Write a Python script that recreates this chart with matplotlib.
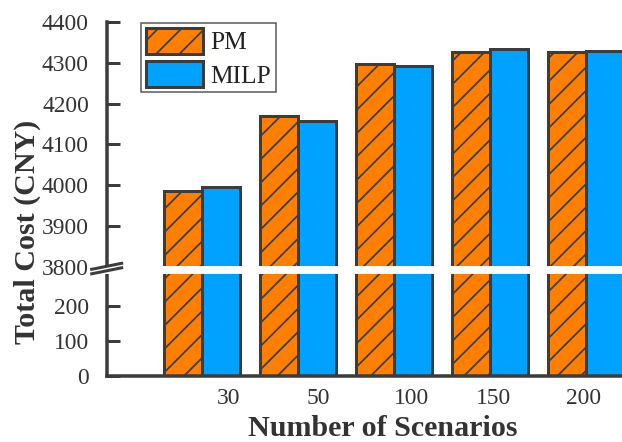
import numpy as np
import matplotlib
matplotlib.use("Agg")
import matplotlib.pyplot as plt
from matplotlib.lines import Line2D

DPI = 140
W, H = 622, 442
def pt(px):
    return px * 72.0 / DPI

categories = ["30", "50", "100", "150", "200"]
pm_values = [3985, 4170, 4298, 4327, 4326]
milp_values = [3995, 4158, 4293, 4333, 4329]
ytick_values = [0, 100, 200, 3800, 3900, 4000, 4100, 4200, 4300, 4400]
ytick_labels = ["0", "100", "200", "3800", "3900", "4000", "4100", "4200", "4300", "4400"]
xtick_offsets = [0.28, 0.21, 0.18, 0.04, -0.03]

plt.rcParams['font.family'] = ['Liberation Serif', 'DejaVu Serif']
plt.rcParams['hatch.linewidth'] = 0.9
plt.rcParams['hatch.color'] = '#2a2a2a'

EDGE = '#3c3c3c'
ORANGE = '#FF7F00'
BLUE = '#00A2FF'

# broken y axis as a piecewise-linear scale
K1 = 0.35
K2 = 245.0 / 600.0
def fwd(y):
    y = np.asarray(y, float)
    return np.where(y <= 300, y * K1,
                    np.where(y >= 3800, 109 + (y - 3800) * K2,
                             105 + (y - 300) * (4.0 / 3500.0)))
def inv(u):
    u = np.asarray(u, float)
    return np.where(u <= 105, u / K1,
                    np.where(u >= 109, 3800 + (u - 109) / K2,
                             300 + (u - 105) * 3500.0 / 4.0))

fig = plt.figure(figsize=(W / DPI, H / DPI), dpi=DPI)
ax = fig.add_axes([107 / W, 1 - 376 / H, 1 - 107 / W, (376 - 22) / H])
ax.set_yscale('function', functions=(fwd, inv))

x = np.arange(len(categories))
bw = 0.4
ax.bar(x - bw / 2, pm_values, bw, color=ORANGE, edgecolor=EDGE,
       linewidth=pt(3), hatch='//', label='PM', zorder=2)
ax.bar(x + bw / 2, milp_values, bw, color=BLUE, edgecolor=EDGE,
       linewidth=pt(3), label='MILP', zorder=2)

ax.set_ylim(0, 4400)
ax.set_xlim(-0.99, 4.375)
ax.set_yticks(ytick_values)
ax.set_yticklabels(ytick_labels)
ax.set_xticks(x + np.array(xtick_offsets))
ax.set_xticklabels(categories)
ax.minorticks_off()

for s in ['top', 'right']:
    ax.spines[s].set_visible(False)
for s in ['left', 'bottom']:
    ax.spines[s].set_linewidth(pt(3.5))
    ax.spines[s].set_color(EDGE)

ax.tick_params(axis='y', direction='in', length=pt(13), width=pt(3),
               color=EDGE, labelsize=pt(23.5), labelcolor='#333333', pad=pt(18))
ax.tick_params(axis='x', length=0, labelsize=pt(23.5), labelcolor='#333333', pad=pt(12))

# white break band and break marks
ax.axhspan(295, 3801, xmin=0, xmax=1, color='white', zorder=3, clip_on=False)
ax.add_patch(plt.Rectangle((100 / W, 1 - 273 / H), 14 / W, 6 / H,
                           transform=fig.transFigure, color='white',
                           zorder=4, clip_on=False))
for (x0, y0, x1, y1) in [(91.7, 269.3, 121.7, 263.3), (91.7, 273.8, 121.7, 267.8)]:
    fig.add_artist(Line2D([x0 / W, x1 / W], [1 - y0 / H, 1 - y1 / H],
                          transform=fig.transFigure, color=EDGE, lw=pt(3),
                          zorder=5))

leg = ax.legend(loc='upper left', bbox_to_anchor=(141 / W, 1 - 23 / H),
                bbox_transform=fig.transFigure, borderaxespad=0,
                fontsize=pt(25.5), fancybox=False, framealpha=1,
                edgecolor='#555555', handlelength=2.25, handleheight=1.23,
                handletextpad=0.3, labelspacing=0.24, borderpad=0.18)
leg.get_frame().set_linewidth(pt(1.5))
for t in leg.get_texts():
    t.set_color('#222222')

fig.text(27 / W, 1 - 232 / H, 'Total Cost (CNY)', rotation=90, ha='center',
         va='center', fontsize=pt(30), fontweight='bold', color='#333333')
fig.text(383 / W, 1 - 428 / H, 'Number of Scenarios', ha='center', va='center',
         fontsize=pt(30), fontweight='bold', color='#333333')

fig.savefig('out.png', dpi=DPI, facecolor='white')
